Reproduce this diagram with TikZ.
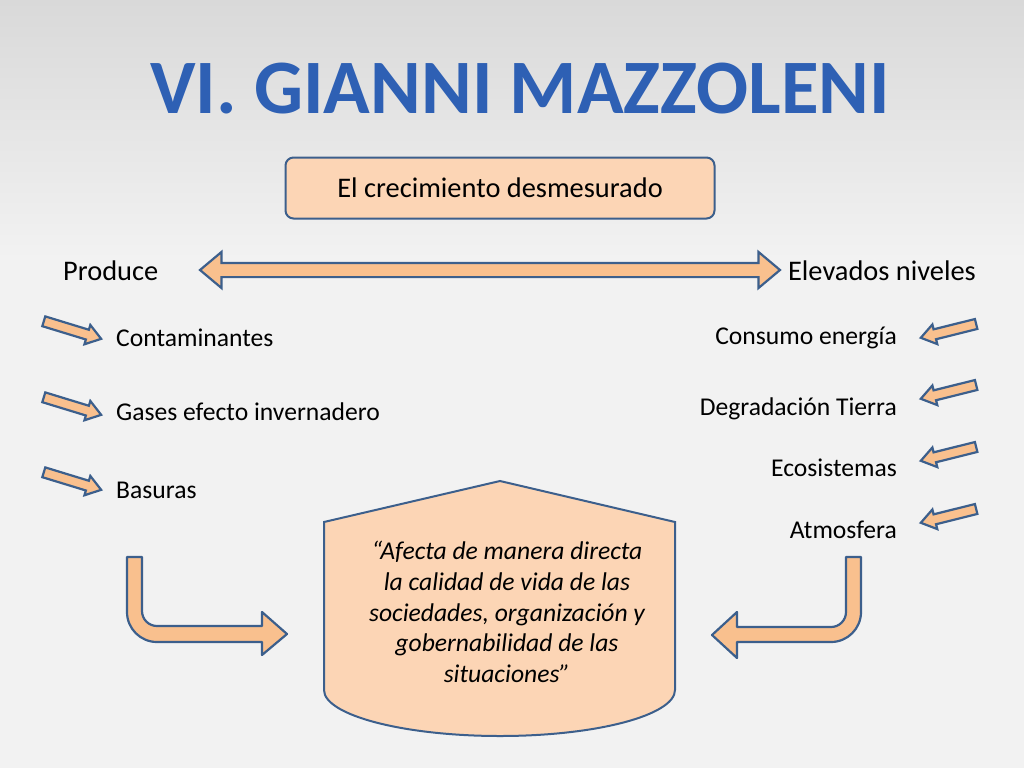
\documentclass[tikz,border=0pt]{standalone}
\usepackage{fontspec}
\setmainfont{Carlito}
\usepackage{tikz}
\usetikzlibrary{shapes.arrows,positioning}
\usepackage{xcolor}

\definecolor{peach}{HTML}{FCD5B5}
\definecolor{arrowfill}{HTML}{F9C08E}
\definecolor{edge}{HTML}{3C5F8C}
\definecolor{titleblue}{HTML}{2E60B4}
\definecolor{bgtop}{HTML}{D9D9D9}
\definecolor{bgbot}{HTML}{F2F2F2}

\begin{document}
\begin{tikzpicture}[
  x=1pt,y=-1pt,
  txt/.style={font=\fontsize{25.6}{30.7}\selectfont,inner sep=0pt},
  bigtxt/.style={font=\fontsize{28.4}{34}\selectfont,inner sep=0pt},
  box/.style={draw=edge,line width=2pt,fill=peach,rounded corners=8pt,
              minimum width=429pt,minimum height=61pt,bigtxt},
  smallarr/.style={single arrow,draw=edge,line width=2.2pt,fill=arrowfill,
              inner xsep=0pt,inner ysep=4pt,single arrow head extend=5pt,
              single arrow tip angle=70,minimum height=60pt},
  bigarr/.style={double arrow,draw=edge,line width=2.2pt,fill=arrowfill,
              inner xsep=0pt,inner ysep=6pt,double arrow head extend=11pt,
              double arrow tip angle=80,minimum height=580pt},
  bent/.style={draw=edge,line width=2.2pt,fill=arrowfill,line join=round}
]
  % background
  \fill[bgbot] (0,0) rectangle (1024,768);
  \shade[top color=bgtop,bottom color=bgbot] (0,0) rectangle (1024,260);
  \useasboundingbox (0,0) rectangle (1024,768);

  \node[font=\fontsize{77}{88}\selectfont\bfseries,text=titleblue] (title) at (520,89) {VI. GIANNI MAZZOLENI};

  \node[box] (growth) at (500,188) {El crecimiento desmesurado};

  \node[bigarr] (both) at (490,270) {};
  \node[bigtxt,anchor=west] (produce) at (63,271) {Produce};
  \node[bigtxt,anchor=east] (levels) at (976,271) {Elevados niveles};

  % left list
  \node[smallarr,rotate=-17] (la1) at (69,329) {};
  \node[smallarr,rotate=-17] (la2) at (69,405) {};
  \node[smallarr,rotate=-17] (la3) at (69,480) {};
  \node[txt,anchor=west] (cont) at (116,338) {Contaminantes};
  \node[txt,anchor=west] (gases) at (116,412) {Gases efecto invernadero};
  \node[txt,anchor=west] (bas) at (116,490) {Basuras};

  % right list
  \node[smallarr,rotate=194,minimum height=57pt] (ra1) at (952,330) {};
  \node[smallarr,rotate=194,minimum height=57pt] (ra2) at (952,391) {};
  \node[smallarr,rotate=194,minimum height=57pt] (ra3) at (952,453) {};
  \node[smallarr,rotate=194,minimum height=57pt] (ra4) at (952,515) {};
  \node[txt,anchor=east] (energy) at (897,338) {Consumo energía};
  \node[txt,anchor=east] (land) at (897,409) {Degradación Tierra};
  \node[txt,anchor=east] (eco) at (897,468) {Ecosistemas};
  \node[txt,anchor=east] (atm) at (897,530) {Atmosfera};

  % bent arrows
  \draw[bent] (127,557) -- (127,612) .. controls (127,628.6) and (140.4,642) .. (157,642)
    -- (262,642) -- (262,655) -- (287,634) -- (262,612) -- (262,626) -- (157,626)
    .. controls (148.7,626) and (142,619.3) .. (142,611) -- (142,557) -- cycle;
  \draw[bent] (861,557) -- (861,612) .. controls (861,628.6) and (847.6,642) .. (831,642)
    -- (737,642) -- (737,658) -- (712,635) -- (737,612) -- (737,627) -- (831,627)
    .. controls (839.3,627) and (846,620.3) .. (846,612) -- (846,557) -- cycle;

  % result
  \draw[draw=edge,line width=2pt,fill=peach] (324,522) -- (500,481) -- (675,522) -- (675,690)
    .. controls (675,715) and (597,736) .. (500,736)
    .. controls (403,736) and (324,715) .. (324,690) -- cycle;
  \node[txt,align=center,font=\fontsize{25.6}{30.7}\selectfont\itshape] (quote) at (507,612)
    {“Afecta de manera directa\\la calidad de vida de las\\sociedades, organización y\\gobernabilidad de las\\situaciones”};
\end{tikzpicture}
\end{document}
